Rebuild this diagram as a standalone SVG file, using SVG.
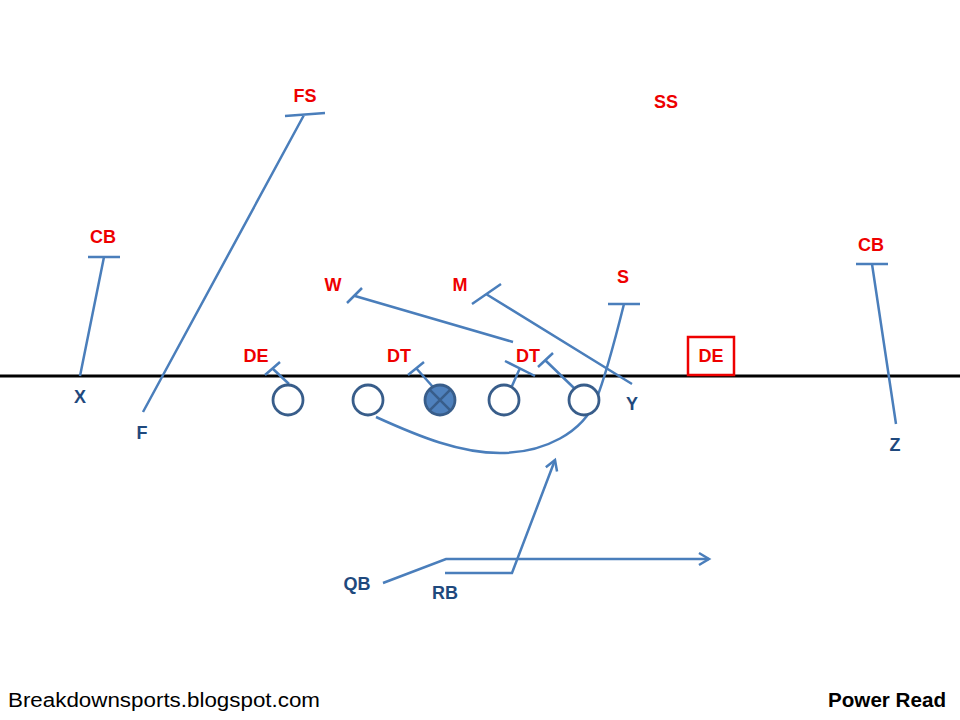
<svg xmlns="http://www.w3.org/2000/svg" width="960" height="720" viewBox="0 0 960 720">
<defs>
<style>
.lbl{font-family:"Liberation Sans",Arial,sans-serif;font-weight:bold;font-size:18px;text-anchor:middle}
.def{fill:#EE0000}
.off{fill:#1F497D}
.rt{fill:none;stroke:#4A7EBB;stroke-width:2.5;stroke-linecap:butt}
.ol{fill:#FFFFFF;stroke:#385D8A;stroke-width:2.8}
</style>
<marker id="arr" markerUnits="userSpaceOnUse" markerWidth="16" markerHeight="16" refX="12" refY="8" orient="auto" viewBox="0 0 16 16">
<path d="M2,2 L12,8 L2,14" fill="none" stroke="#4A7EBB" stroke-width="2.5"/>
</marker>
</defs>
<rect width="960" height="720" fill="#FFFFFF"/>
<line id="los" x1="0" y1="376" x2="960" y2="376" stroke="#000000" stroke-width="3"/>

<g id="connectors">
<path class="rt" d="M80,376 L104,257 M88,257 L120,257"/>
<path class="rt" d="M143,412 L304,115 M285,116 L325,113"/>
<path class="rt" d="M896,424 L872,264 M856,264 L888,264"/>
<path class="rt" d="M513,342 L355,296 M347,303 L362,288"/>
<path class="rt" d="M632,384 L486,294 M472,304 L501,284"/>
<path class="rt" d="M376,417 C420,437 460,453 500,453 C545,453 583,432 596,400 C605,378 615,340 624,304 M608,304 L640,304"/>
<path class="rt" d="M289,384 L272,368 M265,375 L280,362"/>
<path class="rt" d="M433,387 L416,368 M408,375 L424,362"/>
<path class="rt" d="M512,386 L520,368 M505,361 L535,376"/>
<path class="rt" d="M574,388 L545,360 M538,367 L553,353"/>
<path class="rt" d="M383,583 L446,559 L709,559" marker-end="url(#arr)"/>
<path class="rt" d="M445,573 L512,573 L555,460" marker-end="url(#arr)"/>
</g>

<g id="LT"><circle class="ol" cx="288" cy="400" r="15"/></g>
<g id="LG"><circle class="ol" cx="368" cy="400" r="15"/></g>
<g id="C"><circle cx="440" cy="400" r="15" fill="#4F81BD" stroke="#385D8A" stroke-width="2.8"/><path d="M429.4,389.4 L450.6,410.6 M450.6,389.4 L429.4,410.6" stroke="#385D8A" stroke-width="2.5"/></g>
<g id="RG"><circle class="ol" cx="504" cy="400" r="15"/></g>
<g id="RT"><circle class="ol" cx="584" cy="400" r="15"/></g>

<g id="FS"><text class="lbl def" x="305" y="102">FS</text></g>
<g id="SS"><text class="lbl def" x="666" y="108">SS</text></g>
<g id="CBL"><text class="lbl def" x="103" y="243">CB</text></g>
<g id="CBR"><text class="lbl def" x="871" y="251">CB</text></g>
<g id="W"><text class="lbl def" x="333" y="291">W</text></g>
<g id="M"><text class="lbl def" x="460" y="291">M</text></g>
<g id="S"><text class="lbl def" x="623" y="283">S</text></g>
<g id="DEL"><text class="lbl def" x="256" y="362">DE</text></g>
<g id="DTL"><text class="lbl def" x="399" y="362">DT</text></g>
<g id="DTR"><text class="lbl def" x="528" y="362">DT</text></g>
<g id="DER"><rect x="688" y="337" width="46" height="38" fill="#FFFFFF" stroke="#EE0000" stroke-width="2.5"/><text class="lbl def" x="711" y="362">DE</text></g>

<g id="X"><text class="lbl off" x="80" y="403">X</text></g>
<g id="F"><text class="lbl off" x="142" y="439">F</text></g>
<g id="Y"><text class="lbl off" x="632" y="410">Y</text></g>
<g id="Z"><text class="lbl off" x="895" y="451">Z</text></g>
<g id="QB"><text class="lbl off" x="357" y="590">QB</text></g>
<g id="RB"><text class="lbl off" x="445" y="599">RB</text></g>

<g id="footer">
<text x="8" y="707" font-family="'Liberation Sans',Arial,sans-serif" font-size="20" fill="#000000" textLength="312" lengthAdjust="spacingAndGlyphs">Breakdownsports.blogspot.com</text>
<text x="946" y="707" font-family="'Liberation Sans',Arial,sans-serif" font-size="20" font-weight="bold" fill="#000000" text-anchor="end" textLength="118" lengthAdjust="spacingAndGlyphs">Power Read</text>
</g>
</svg>
